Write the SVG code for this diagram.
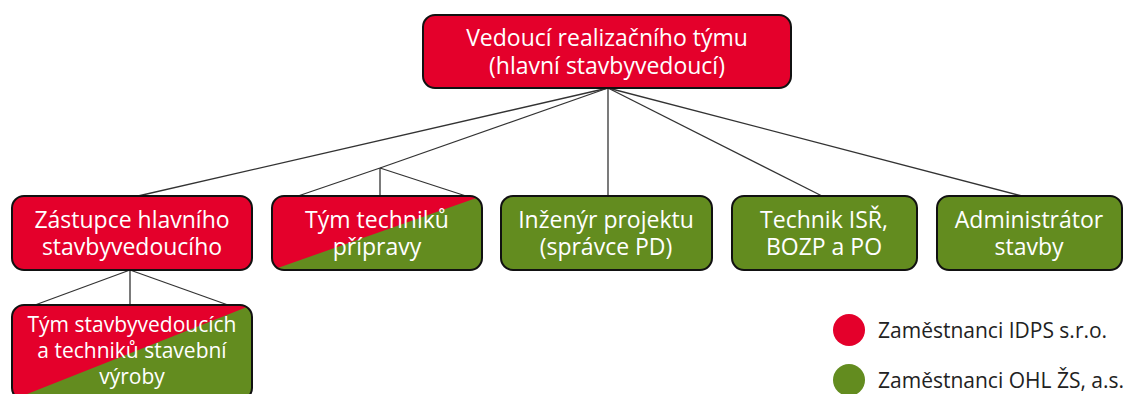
<svg xmlns="http://www.w3.org/2000/svg" width="1125" height="394" viewBox="0 0 1125 394">
  <defs>
    <style>
      .box { stroke: #111; stroke-width: 2; }
      .red { fill: #E4002B; }
      .green { fill: #638C1F; }
      .lbl { font-family: "Open Sans", "Noto Sans", "Liberation Sans", sans-serif; font-size: 23px; fill: #ffffff; text-anchor: middle; }
      .sm { font-size: 21px; }
      .leg { font-family: "Open Sans", "Noto Sans", "Liberation Sans", sans-serif; font-size: 21px; fill: #222222; }
      .con line { stroke: #333333; stroke-width: 1.3; }
    </style>
    <clipPath id="clipTT"><rect x="272" y="196" width="210" height="74" rx="12"/></clipPath>
    <clipPath id="clipTS"><rect x="12" y="305" width="240" height="95" rx="12"/></clipPath>
  </defs>
  <rect width="1125" height="394" fill="#ffffff"/>

  <g id="connectors" class="con">
    <line x1="608" y1="88" x2="138" y2="196"/>
    <line x1="608" y1="88" x2="380" y2="168"/>
    <line x1="608" y1="88" x2="608" y2="196"/>
    <line x1="608" y1="88" x2="822" y2="196"/>
    <line x1="608" y1="88" x2="1022" y2="196"/>
    <line x1="380" y1="168" x2="298" y2="196"/>
    <line x1="380" y1="168" x2="380" y2="196"/>
    <line x1="380" y1="168" x2="466" y2="196"/>
    <line x1="130" y1="270" x2="35" y2="305"/>
    <line x1="130" y1="270" x2="130" y2="305"/>
    <line x1="130" y1="270" x2="228" y2="305"/>
  </g>

  <g id="node-vedouci">
    <rect class="box red" x="423" y="15" width="368" height="73" rx="12"/>
    <text class="lbl" x="607" y="46">Vedoucí realizačního týmu</text>
    <text class="lbl" x="607" y="74">(hlavní stavbyvedoucí)</text>
  </g>

  <g id="node-zastupce">
    <rect class="box red" x="12" y="196" width="240" height="74" rx="12"/>
    <text class="lbl" x="132" y="228">Zástupce hlavního</text>
    <text class="lbl" x="132" y="255">stavbyvedoucího</text>
  </g>

  <g id="node-tym-techniku">
    <g clip-path="url(#clipTT)">
      <rect class="red" x="272" y="196" width="210" height="74"/>
      <polygon class="green" points="272,270 482,196 482,270"/>
    </g>
    <rect x="272" y="196" width="210" height="74" rx="12" fill="none" class="box"/>
    <text class="lbl" x="377" y="228">Tým techniků</text>
    <text class="lbl" x="377" y="255">přípravy</text>
  </g>

  <g id="node-inzenyr">
    <rect class="box green" x="501" y="196" width="211" height="74" rx="12"/>
    <text class="lbl" x="606" y="228">Inženýr projektu</text>
    <text class="lbl" x="606" y="255">(správce PD)</text>
  </g>

  <g id="node-technik-isr">
    <rect class="box green" x="732" y="196" width="185" height="74" rx="12"/>
    <text class="lbl" x="824" y="228">Technik ISŘ,</text>
    <text class="lbl" x="824" y="255">BOZP a PO</text>
  </g>

  <g id="node-administrator">
    <rect class="box green" x="937" y="196" width="185" height="74" rx="12"/>
    <text class="lbl" x="1029" y="228">Administrátor</text>
    <text class="lbl" x="1029" y="255">stavby</text>
  </g>

  <g id="node-tym-stavbyvedoucich">
    <g clip-path="url(#clipTS)">
      <rect class="red" x="12" y="305" width="240" height="95"/>
      <polygon class="green" points="12,400 252,305 252,400"/>
    </g>
    <rect x="12" y="305" width="240" height="95" rx="12" fill="none" class="box"/>
    <text class="lbl sm" x="132" y="332">Tým stavbyvedoucích</text>
    <text class="lbl sm" x="132" y="358">a techniků stavební</text>
    <text class="lbl sm" x="132" y="384">výroby</text>
  </g>

  <g id="legend">
    <circle class="red" cx="849" cy="330" r="16"/>
    <text class="leg" x="878" y="338">Zaměstnanci IDPS s.r.o.</text>
    <circle class="green" cx="849" cy="380" r="16"/>
    <text class="leg" x="878" y="388">Zaměstnanci OHL ŽS, a.s.</text>
  </g>
</svg>
